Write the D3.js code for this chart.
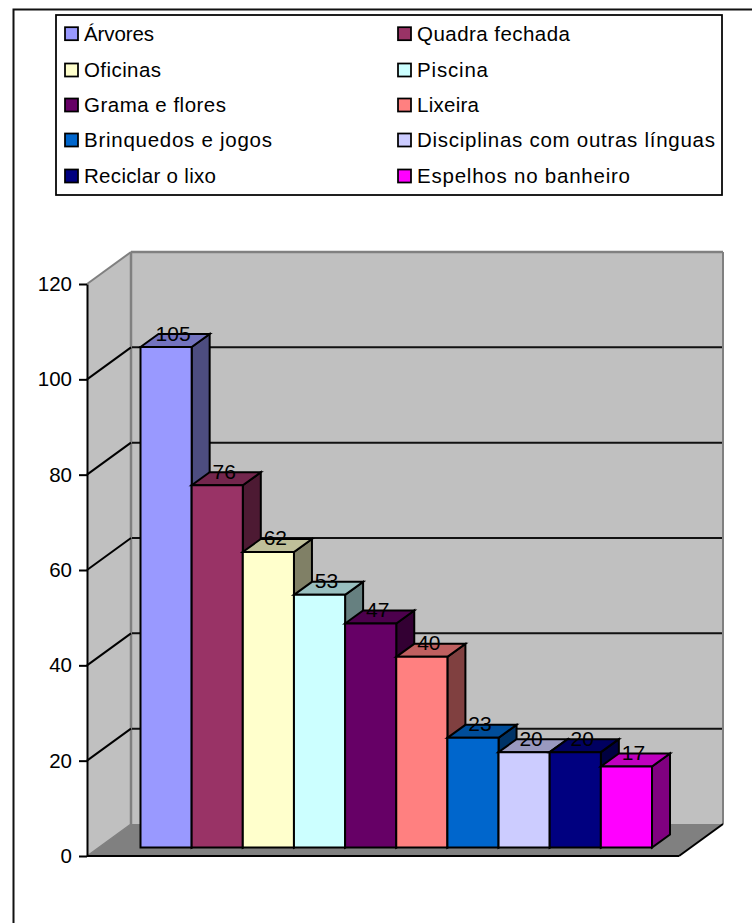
<!DOCTYPE html>
<html><head><meta charset="utf-8">
<script src="https://cdn.jsdelivr.net/npm/d3@7"></script>
<style>html,body{margin:0;padding:0;background:#fff}svg{display:block}text{font-family:"Liberation Sans",Arial,sans-serif;fill:#000}</style>
</head><body><svg id="c" width="752" height="923"></svg>
<script>
const categories=["Árvores","Quadra fechada","Oficinas","Piscina","Grama e flores","Lixeira","Brinquedos e jogos","Disciplinas com outras línguas","Reciclar o lixo","Espelhos no banheiro"];
const values=[105,76,62,53,47,40,23,20,20,17];
const colors=["#9999ff","#993366","#ffffcc","#ccffff","#660066","#ff8080","#0066cc","#ccccff","#000080","#ff00ff"];
const yTicks=[0,20,40,60,80,100,120];
const legendTextWidths=[70,153,77,71,142,62,188,298,132,213];

const svg=d3.select("#c");
const depth={dx:44,dy:-32}, barDepth={dx:18,dy:-13};
const xFront=[87,679], y=d3.scaleLinear().domain([0,120]).range([856,284]);
const barY=d3.scaleLinear().domain([0,120]).range([847.5,275.5]);
const x=d3.scaleBand().domain(d3.range(categories.length)).range([140.5,652]);
const poly=(pts,fill,stroke,sw)=>svg.append("polygon").attr("points",pts.map(p=>p.join(",")).join(" ")).attr("fill",fill).attr("stroke",stroke||"none").attr("stroke-width",sw||0).attr("stroke-linejoin","miter");
const line=(a,b,stroke,sw)=>svg.append("line").attr("x1",a[0]).attr("y1",a[1]).attr("x2",b[0]).attr("y2",b[1]).attr("stroke",stroke).attr("stroke-width",sw);

// outer frame
svg.append("rect").attr("x",13.5).attr("y",9.5).attr("width",760).attr("height",930).attr("fill","#fff").attr("stroke","#111").attr("stroke-width",2);

// legend
const lg=svg.append("g");
lg.append("rect").attr("x",56).attr("y",15).attr("width",666).attr("height",180).attr("fill","#fff").attr("stroke","#000").attr("stroke-width",1.75);
const rowY=[33.7,70,105,140,176], colX=[64,397];
categories.forEach((c,i)=>{
  const cx=colX[i%2], cy=rowY[Math.floor(i/2)];
  lg.append("rect").attr("x",cx+1).attr("y",cy-6.5).attr("width",13).attr("height",13).attr("fill",colors[i]).attr("stroke","#000").attr("stroke-width",1.75);
  lg.append("text").attr("x",cx+20).attr("y",cy+7).attr("font-size",20.5)
    .attr("textLength",legendTextWidths[i]).attr("lengthAdjust","spacing").text(c);
});

// walls
const t=y(120),b=y(0);
const L=xFront[0],R=xFront[1],dx=depth.dx,dy=depth.dy;
poly([[L,b],[L,t],[L+dx,t+dy],[L+dx,b+dy]],"#c0c0c0");
poly([[L+dx,t+dy],[R+dx,t+dy],[R+dx,b+dy],[L+dx,b+dy]],"#c0c0c0");
poly([[L,b],[L+dx,b+dy],[R+dx,b+dy],[R,b]],"#808080");
line([L+dx,t+dy],[R+dx,t+dy],"#808080",2.5);
line([L+dx,t+dy],[L+dx,b+dy],"#808080",2.5);
line([R+dx,t+dy],[R+dx,b+dy],"#808080",2);
line([L,t],[L+dx,t+dy],"#808080",2);
line([L,b],[L+dx,b+dy],"#808080",1.5);
line([L,b],[R,b],"#000",2);
line([R,b],[R+dx,b+dy],"#000",2);

// gridlines
yTicks.filter(v=>v>0&&v<120).forEach(v=>{
  const yy=y(v);
  line([L,yy],[L+dx,yy+dy],"#000",2);
  line([L+dx+1,yy+dy],[R+dx-1,yy+dy],"#111",2);
});

// axis
const ax=svg.append("g").attr("transform",`translate(${L},0)`).call(d3.axisLeft(y).tickValues(yTicks).tickSize(8).tickSizeOuter(0).tickPadding(7));
ax.selectAll("path,line").attr("stroke","#000").attr("stroke-width",2);
ax.selectAll("text").attr("font-size",20.5).attr("font-family",'"Liberation Sans",Arial,sans-serif').attr("fill","#000");

// bars
const mix=(c,k)=>{const q=d3.rgb(c);return d3.rgb(q.r*k,q.g*k,q.b*k).formatHex();};
const w=x.bandwidth(), bd=barDepth;
values.forEach((v,i)=>{
  const x0=x(i),x1=x0+w,y0=barY(v),yb=barY(0);
  poly([[x1,yb],[x1,y0],[x1+bd.dx,y0+bd.dy],[x1+bd.dx,yb+bd.dy]],mix(colors[i],.5),"#000",2);
  poly([[x0,y0],[x0+bd.dx,y0+bd.dy],[x1+bd.dx,y0+bd.dy],[x1,y0]],mix(colors[i],.75),"#000",2);
  poly([[x0,yb],[x0,y0],[x1,y0],[x1,yb]],colors[i],"#000",2);
});
values.forEach((v,i)=>{
  svg.append("text").attr("x",x(i)+w/2+7).attr("y",barY(v)-6.5).attr("text-anchor","middle").attr("font-size",21).attr("fill","#111").text(v);
});
</script></body></html>
